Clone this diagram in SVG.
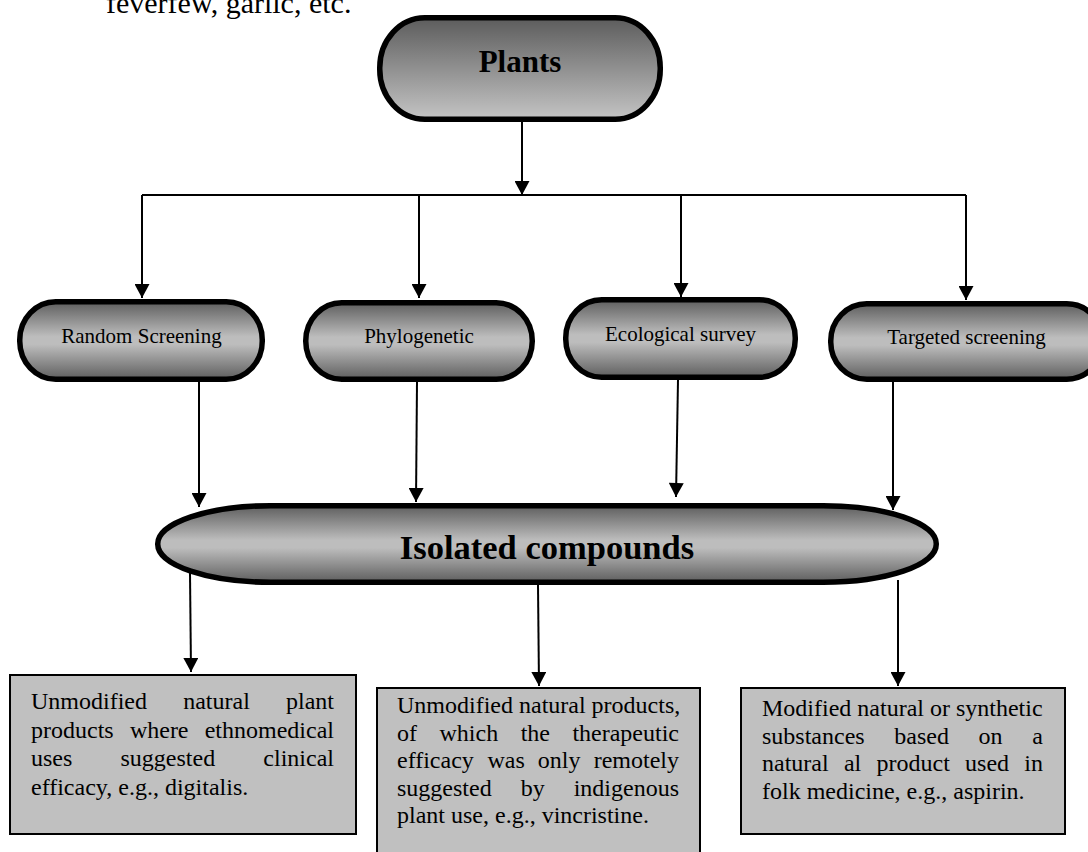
<svg xmlns="http://www.w3.org/2000/svg" width="1088" height="852" viewBox="0 0 1088 852">
<style>
.t{font-family:"Liberation Serif","Times New Roman",serif;fill:#000}
.nodeTxt{font-size:21px;text-anchor:middle}
.body{font-size:24px}
.pill{stroke:#000;stroke-width:5.5}
.box{fill:#c0c0c0;stroke:#000;stroke-width:2}
.con{stroke:#000;stroke-width:2;fill:none}
.arr{marker-end:url(#ah)}
</style>
<defs>
<linearGradient id="gTop" x1="0" y1="0" x2="0" y2="1">
<stop offset="0" stop-color="#5c5c5c"/>
<stop offset="1" stop-color="#c4c4c4"/>
</linearGradient>
<linearGradient id="gRef" x1="0" y1="0" x2="0" y2="1">
<stop offset="0" stop-color="#5e5e5e"/>
<stop offset="0.45" stop-color="#bdbdbd"/>
<stop offset="0.55" stop-color="#bdbdbd"/>
<stop offset="1" stop-color="#5e5e5e"/>
</linearGradient>
<marker id="ah" markerUnits="userSpaceOnUse" markerWidth="15" markerHeight="15" viewBox="0 0 14 15" refX="14" refY="7.5" orient="auto">
<path d="M0,0 L14,7.5 L0,15 z" fill="#000"/>
</marker>
</defs>
<rect width="1088" height="852" fill="#fff"/>

<text class="t" x="106" y="13" font-size="30">feverfew, garlic, etc.</text>

<g id="connectors">
<line class="con arr" x1="522" y1="122" x2="522" y2="195"/>
<line class="con" x1="142" y1="195" x2="966" y2="195"/>
<line class="con arr" x1="142" y1="195" x2="142" y2="298"/>
<line class="con arr" x1="419" y1="195" x2="419" y2="298"/>
<line class="con arr" x1="681" y1="195" x2="681" y2="297"/>
<line class="con arr" x1="966" y1="195" x2="966" y2="300"/>
<line class="con arr" x1="199" y1="382" x2="199" y2="507"/>
<line class="con arr" x1="417" y1="382" x2="416" y2="502"/>
<line class="con arr" x1="678" y1="380" x2="676" y2="497"/>
<line class="con arr" x1="893" y1="382" x2="893" y2="510"/>
<line class="con arr" x1="190" y1="573" x2="191" y2="672"/>
<line class="con arr" x1="538" y1="585" x2="539" y2="686"/>
<line class="con arr" x1="898" y1="580" x2="898" y2="686"/>
</g>

<g id="plants">
<rect class="pill" x="379.75" y="17.75" width="280.5" height="101.5" rx="45" ry="50" fill="url(#gTop)"/>
<text class="t" x="520" y="72" font-size="31" font-weight="bold" text-anchor="middle">Plants</text>
</g>

<g id="random-screening">
<rect class="pill" x="19.75" y="301.75" width="242.5" height="77.5" rx="36" ry="38" fill="url(#gRef)"/>
<text class="t nodeTxt" x="141.5" y="343">Random Screening</text>
</g>

<g id="phylogenetic">
<rect class="pill" x="305.75" y="302.75" width="226.5" height="76.5" rx="36" ry="38" fill="url(#gRef)"/>
<text class="t nodeTxt" x="419" y="343">Phylogenetic</text>
</g>

<g id="ecological-survey">
<rect class="pill" x="565.75" y="299.75" width="229.5" height="77.5" rx="36" ry="38" fill="url(#gRef)"/>
<text class="t nodeTxt" x="680.5" y="341">Ecological survey</text>
</g>

<g id="targeted-screening">
<rect class="pill" x="830.75" y="303.75" width="272" height="75.5" rx="36" ry="37" fill="url(#gRef)"/>
<text class="t nodeTxt" x="966.5" y="344">Targeted screening</text>
</g>

<g id="isolated-compounds">
<rect class="pill" x="157.75" y="505.75" width="778.5" height="76.5" rx="113" ry="38" fill="url(#gRef)"/>
<text class="t" x="547" y="559" font-size="34.5" font-weight="bold" text-anchor="middle">Isolated compounds</text>
</g>

<g id="box-unmodified-plant">
<rect class="box" x="10" y="675" width="346" height="159"/>
<text class="t body" y="709"><tspan x="31">Unmodified</tspan><tspan x="183.2">natural</tspan><tspan x="334" text-anchor="end">plant</tspan></text>
<text class="t body" y="737.5"><tspan x="31">products</tspan><tspan x="129.9">where</tspan><tspan x="334" text-anchor="end">ethnomedical</tspan></text>
<text class="t body" y="766"><tspan x="31">uses</tspan><tspan x="120.5">suggested</tspan><tspan x="334" text-anchor="end">clinical</tspan></text>
<text class="t body" x="31" y="794.5">efficacy, e.g., digitalis.</text>
</g>

<g id="box-unmodified-remote">
<rect class="box" x="377" y="688" width="323" height="175"/>
<text class="t body" x="397" y="713">Unmodified natural products,</text>
<text class="t body" y="740.5"><tspan x="397">of</tspan><tspan x="439.5">which</tspan><tspan x="520.7">the</tspan><tspan x="679" text-anchor="end">therapeutic</tspan></text>
<text class="t body" y="768"><tspan x="397">efficacy</tspan><tspan x="487.4">was</tspan><tspan x="537.8">only</tspan><tspan x="679" text-anchor="end">remotely</tspan></text>
<text class="t body" y="795.5"><tspan x="397">suggested</tspan><tspan x="520.7">by</tspan><tspan x="679" text-anchor="end">indigenous</tspan></text>
<text class="t body" x="397" y="823">plant use, e.g., vincristine.</text>
</g>

<g id="box-modified">
<rect class="box" x="741" y="688" width="324" height="146"/>
<text class="t body" x="762" y="716">Modified natural or synthetic</text>
<text class="t body" y="743.5"><tspan x="762">substances</tspan><tspan x="894.3">based</tspan><tspan x="978.6">on</tspan><tspan x="1043" text-anchor="end">a</tspan></text>
<text class="t body" y="771"><tspan x="762">natural</tspan><tspan x="843.9">al</tspan><tspan x="876.5">product</tspan><tspan x="965.1">used</tspan><tspan x="1043" text-anchor="end">in</tspan></text>
<text class="t body" x="762" y="798.5">folk medicine, e.g., aspirin.</text>
</g>
</svg>
